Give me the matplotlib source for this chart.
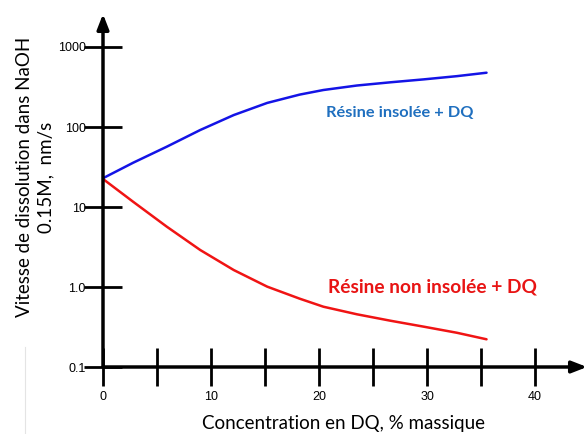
import matplotlib
matplotlib.use("Agg")
import matplotlib.pyplot as plt
from matplotlib.lines import Line2D

# DQ concentration (% massique) and dissolution rate in NaOH 0.15M (nm/s)
conc_exposed = [0, 2.8, 5.9, 9.0, 12.1, 15.2, 18.2, 20.4, 23.5, 26.6, 29.7, 32.75, 35.5]
rate_exposed = [22.9, 35.8, 56.7, 91.7, 141, 200, 254, 290, 330, 362, 394, 432, 477]

conc_unexposed = [0, 2.8, 5.9, 9.0, 12.1, 15.2, 18.2, 20.4, 23.5, 26.6, 29.7, 32.75, 35.5]
rate_unexposed = [22.4, 11.6, 5.68, 2.9, 1.63, 1.01, 0.715, 0.567, 0.456, 0.379, 0.319, 0.268, 0.222]

x_ticks = [0, 5, 10, 15, 20, 25, 30, 35, 40]
x_ticklabels = ["0", "", "10", "", "20", "", "30", "", "40"]
y_ticks = [0.1, 1, 10, 100, 1000]
y_ticklabels = ["0.1", "1.0", "10", "100", "1000"]

W, H = 587, 434
fig = plt.figure(figsize=(W / 100, H / 100), dpi=100)
ax = fig.add_axes([103 / W, 67 / H, 1 - 103 / W, (420 - 67) / H])

ax.plot(conc_exposed, rate_exposed, color="#1414e6", lw=1.8,
        solid_capstyle="round", solid_joinstyle="round")
ax.plot(conc_unexposed, rate_unexposed, color="#f01414", lw=1.8,
        solid_capstyle="round", solid_joinstyle="round")

ax.set_yscale("log")
ax.set_xlim(0, 44.8)
ax.set_ylim(0.1, 10 ** 3.4125)

for s in ax.spines.values():
    s.set_visible(False)
ax.set_facecolor("none")

ax.set_xticks(x_ticks)
ax.set_xticklabels(x_ticklabels, fontfamily="Liberation Sans", fontsize=9)
ax.set_yticks(y_ticks)
ax.set_yticklabels(y_ticklabels, fontfamily="Liberation Sans", fontsize=9)
ax.minorticks_off()
ax.tick_params(axis="x", direction="inout", length=28, width=2, pad=3)
ax.tick_params(axis="y", direction="inout", length=27, width=2, pad=-1)

# axis lines with arrow heads
ax.annotate("", xy=(1, 0), xytext=(0, 0), xycoords="axes fraction",
            arrowprops=dict(arrowstyle="-|>,head_length=0.9,head_width=0.35",
                            lw=2.5, color="black", shrinkA=0, shrinkB=0))
ax.annotate("", xy=(0, 1), xytext=(0, 0), xycoords="axes fraction",
            arrowprops=dict(arrowstyle="-|>,head_length=0.9,head_width=0.35",
                            lw=2.5, color="black", shrinkA=0, shrinkB=0))

ax.text(326, 434 - 113, "Résine insolée + DQ", transform=None, color="#1f6fbf",
        fontfamily="Lato", fontweight="bold", fontsize=11.8, va="center", ha="left")
ax.text(328, 434 - 287, "Résine non insolée + DQ", transform=None, color="#e81414",
        fontfamily="Lato", fontweight="bold", fontsize=13.8, va="center", ha="left")

fig.text(343 / W, 1 - 424 / H, "Concentration en DQ, % massique", ha="center", va="center",
         fontfamily="Lato", fontsize=13.5)
fig.text(35 / W, 1 - 177 / H, "Vitesse de dissolution dans NaOH\n0.15M,  nm/s", ha="center",
         va="center", rotation=90, fontfamily="Lato", fontsize=13.5, linespacing=1.35)

# faint vertical rule at lower left
fig.add_artist(Line2D([25 / W, 25 / W], [0, 1 - 347 / H], color="#e4e4e4", lw=0.8))

fig.savefig("out.png", dpi=100)
